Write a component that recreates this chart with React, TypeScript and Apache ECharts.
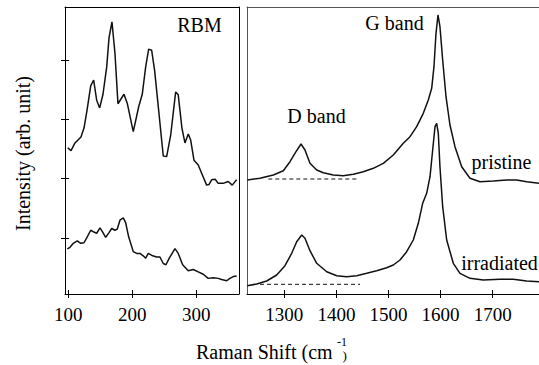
import React, { useEffect, useRef } from "react";
import * as echarts from "echarts";

// RBM region (left panel): [Raman shift cm^-1, intensity arb.]
const rbmPristine: number[][] = [
  [99.2, 2.52], [104.4, 2.47], [110.6, 2.6], [120, 2.7], [124.7, 2.85], [129.4, 3.15],
  [135.2, 3.56], [139.8, 3.66], [144.5, 3.32], [149.2, 3.19], [154.4, 3.42], [160.2, 3.88],
  [163.8, 4.37], [168.4, 4.64], [173.1, 4.11], [177.8, 3.26], [182.5, 3.34], [187.2, 3.42],
  [192.3, 3.27], [201.7, 2.79], [210.2, 3.21], [215.8, 3.42], [221.1, 3.88], [225.8, 4.18],
  [230.5, 4.16], [235.2, 3.81], [239.8, 3.32], [248.6, 2.38], [253.9, 2.37], [260.2, 2.73],
  [268, 3.46], [272, 3.41], [277.8, 2.85], [282.5, 2.6], [287.7, 2.75], [291.4, 2.65],
  [296.6, 2.31], [303.3, 2.23], [308.6, 2.09], [316.4, 1.89], [320, 1.9], [324.2, 1.98],
  [329.8, 1.99], [334.5, 1.92], [342.3, 1.92], [350.2, 1.95], [356.4, 1.89], [363.3, 1.98],
];
const rbmIrradiated: number[][] = [
  [98.6, 0.815], [102.8, 0.843], [108, 0.911], [114.2, 0.95], [119.5, 0.91], [124.7, 0.92],
  [129.8, 1.02], [135.2, 1.13], [140.3, 1.1], [144.5, 1.08], [149.7, 1.17], [153.9, 1.1],
  [158.6, 1.01], [163.8, 1.09], [168, 1.16], [173.1, 1.13], [176.7, 1.15], [180.9, 1.3],
  [186.1, 1.34], [189.8, 1.26], [194.5, 1.02], [201.7, 0.77], [207, 0.74], [212.2, 0.74],
  [217.3, 0.7], [221.1, 0.66], [225.2, 0.74], [232, 0.7], [238.3, 0.68], [243.4, 0.68],
  [248.6, 0.57], [252.8, 0.55], [258, 0.66], [266.9, 0.82], [272, 0.74], [278.9, 0.55],
  [287.7, 0.45], [295.5, 0.47], [303.3, 0.43], [311.1, 0.39], [318.9, 0.32], [326.7, 0.33],
  [334.5, 0.32], [339.8, 0.3], [347.7, 0.28], [352.8, 0.32], [358, 0.35], [363.3, 0.36],
];

// D / G band region (right panel)
const dgPristine: number[][] = [
  [1229, 1.14], [1253.4, 1.157], [1278.9, 1.19], [1298.1, 1.233], [1310.9, 1.323], [1322.5, 1.423],
  [1332.1, 1.5], [1339.7, 1.44], [1349.3, 1.307], [1362.2, 1.24], [1374.9, 1.213], [1394, 1.19],
  [1413.2, 1.183], [1432.4, 1.197], [1451.6, 1.223], [1470.8, 1.257], [1490, 1.307], [1509.2, 1.39],
  [1528.4, 1.507], [1541.3, 1.573], [1554.1, 1.673], [1566.8, 1.807], [1576.4, 1.94], [1582.9, 2.057],
  [1587.3, 2.273], [1591.2, 2.607], [1595, 2.79], [1598.8, 2.673], [1604, 2.34], [1610.4, 1.973],
  [1618, 1.69], [1627.6, 1.473], [1640.5, 1.273], [1656.4, 1.157], [1675.6, 1.123], [1701.2, 1.13],
  [1726.9, 1.14], [1746.1, 1.14], [1765.3, 1.123], [1788.9, 1.107],
];
const dgIrradiated: number[][] = [
  [1229, 0.083], [1247, 0.1], [1266.2, 0.13], [1285.4, 0.19], [1301.3, 0.283], [1314.2, 0.407],
  [1323.8, 0.523], [1333.4, 0.59], [1339.7, 0.557], [1349.3, 0.433], [1362.2, 0.307], [1381.4, 0.223],
  [1400.6, 0.183], [1419.8, 0.173], [1439, 0.183], [1458.2, 0.207], [1477.4, 0.233], [1496.5, 0.263],
  [1509.2, 0.29], [1522.1, 0.34], [1534.9, 0.423], [1547.6, 0.54], [1557.2, 0.707], [1565.6, 0.907],
  [1573.3, 1.007], [1579.7, 1.173], [1584.8, 1.44], [1589.3, 1.673], [1592.5, 1.707], [1595.6, 1.607],
  [1598.8, 1.273], [1604, 0.873], [1611.7, 0.54], [1624.4, 0.307], [1637.2, 0.207], [1656.4, 0.157],
  [1681.9, 0.14], [1714, 0.147], [1739.5, 0.147], [1765.3, 0.13], [1789, 0.123],
];
const baselinePristine: number[][] = [[1269.3, 1.15], [1442, 1.15]];
const baselineIrradiated: number[][] = [[1253.4, 0.097], [1445.4, 0.097]];

const rbmTicks = [100, 200, 300];
const rbmYTicks = [1, 2, 3, 4];
const dgTicks = [1300, 1400, 1500, 1600, 1700];

const FONT = "'Liberation Serif', 'DejaVu Serif', serif";

export default function App() {
  const ref = useRef<HTMLDivElement>(null);
  useEffect(() => {
    if (!ref.current) return;
    const chart = echarts.init(ref.current, null, { renderer: "svg" });
    const black = "#000";
    const gray = "#555";
    const lrange = { min: 95, max: 367 };
    const lyrange = { min: 0.057, max: 4.889 };
    const rrange = { min: 1228.4, max: 1788.9 };
    const ryrange = { min: 0, max: 2.87 };
    const none = { show: false };
    const fmt = (v: number) => String(v);
    const lineSeries = (data: number[][], xi: number, yi: number, extra: any = {}) => ({
      type: "line",
      data,
      xAxisIndex: xi,
      yAxisIndex: yi,
      symbol: "none",
      silent: true,
      lineStyle: { color: "#111", width: 1.5, ...(extra.lineStyle || {}) },
      z: 3,
    });
    const txt = (text: string, x: number, y: number, size: number, align = "center", rotation = 0) => ({
      type: "text",
      x,
      y,
      rotation,
      silent: true,
      style: {
        text,
        fontSize: size,
        fontFamily: FONT,
        fill: black,
        align,
        verticalAlign: "middle",
      },
    });
    chart.setOption({
      animation: false,
      textStyle: { fontFamily: FONT },
      grid: [
        { left: 65, top: 7, width: 174, height: 287 },
        { left: 65, top: 7, width: 174, height: 287 },
        { left: 247, top: 7, right: 0, height: 287 },
        { left: 247, top: 7, right: 0, height: 287 },
      ],
      xAxis: [
        {
          gridIndex: 0, type: "value", position: "bottom", ...lrange,
          axisLine: { show: true, lineStyle: { color: black, width: 1 } },
          axisTick: { show: true, inside: false, length: 4, customValues: rbmTicks, lineStyle: { color: black } },
          axisLabel: { show: true, customValues: rbmTicks, formatter: fmt, margin: 11, fontSize: 19, fontFamily: FONT, color: black },
          splitLine: none,
        },
        {
          gridIndex: 0, type: "value", position: "top", ...lrange,
          axisLine: { show: true, lineStyle: { color: black, width: 1 } },
          axisTick: none, axisLabel: none, splitLine: none,
        },
        {
          gridIndex: 1, type: "value", position: "bottom", ...lrange,
          axisLine: none,
          axisTick: { show: true, inside: true, length: 4, customValues: rbmTicks, lineStyle: { color: black } },
          axisLabel: none, splitLine: none,
        },
        {
          gridIndex: 2, type: "value", position: "bottom", ...rrange,
          axisLine: { show: true, lineStyle: { color: black, width: 1 } },
          axisTick: { show: true, inside: false, length: 4, customValues: dgTicks, lineStyle: { color: black } },
          axisLabel: { show: true, customValues: dgTicks, formatter: fmt, margin: 11, fontSize: 19, fontFamily: FONT, color: black },
          splitLine: none,
        },
        {
          gridIndex: 2, type: "value", position: "top", ...rrange,
          axisLine: { show: true, lineStyle: { color: gray, width: 1 } },
          axisTick: none, axisLabel: none, splitLine: none,
        },
        {
          gridIndex: 3, type: "value", position: "bottom", ...rrange,
          axisLine: none,
          axisTick: { show: true, inside: true, length: 4, customValues: dgTicks, lineStyle: { color: black } },
          axisLabel: none, splitLine: none,
        },
      ],
      yAxis: [
        {
          gridIndex: 0, type: "value", position: "left", ...lyrange,
          axisLine: { show: true, lineStyle: { color: black, width: 1 } },
          axisTick: { show: true, inside: false, length: 4, customValues: rbmYTicks, lineStyle: { color: black } },
          axisLabel: none, splitLine: none,
        },
        {
          gridIndex: 0, type: "value", position: "right", ...lyrange,
          axisLine: { show: true, lineStyle: { color: black, width: 1 } },
          axisTick: none, axisLabel: none, splitLine: none,
        },
        {
          gridIndex: 1, type: "value", position: "left", ...lyrange,
          axisLine: none,
          axisTick: { show: true, inside: true, length: 4, customValues: rbmYTicks, lineStyle: { color: black } },
          axisLabel: none, splitLine: none,
        },
        {
          gridIndex: 2, type: "value", position: "left", ...ryrange,
          axisLine: { show: true, lineStyle: { color: gray, width: 1 } },
          axisTick: none, axisLabel: none, splitLine: none,
        },
        {
          gridIndex: 3, type: "value", position: "left", ...ryrange,
          axisLine: none, axisTick: none, axisLabel: none, splitLine: none,
        },
      ],
      series: [
        lineSeries(rbmPristine, 0, 0),
        lineSeries(rbmIrradiated, 0, 0),
        lineSeries(dgPristine, 3, 3),
        lineSeries(dgIrradiated, 3, 3),
        lineSeries(baselinePristine, 3, 3, { lineStyle: { width: 1, type: [4, 3] } }),
        lineSeries(baselineIrradiated, 3, 3, { lineStyle: { width: 1, type: [4, 3] } }),
      ],
      graphic: [
        txt("RBM", 199.5, 25, 20),
        txt("G band", 394.5, 23, 20),
        txt("D band", 316.5, 116, 20),
        txt("pristine", 501.5, 162, 20),
        txt("irradiated", 499.5, 263, 20),
        txt("Intensity (arb. unit)", 23, 153.5, 20, "center", Math.PI / 2),
        txt("Raman Shift (cm", 196, 351.5, 20, "left"),
        txt("-1", 337, 342, 12, "left"),
        txt(")", 342.5, 355, 13, "left"),
      ],
    });
    return () => chart.dispose();
  }, []);
  return (
    <div
      ref={ref}
      style={{ position: "absolute", left: 0, top: 0, width: 539, height: 365, background: "#fff" }}
    />
  );
}
